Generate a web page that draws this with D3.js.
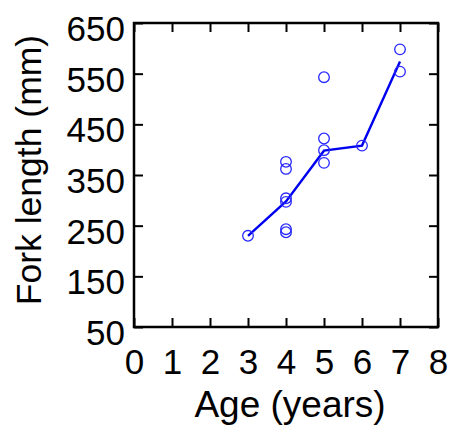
<!DOCTYPE html>
<html>
<head>
<meta charset="utf-8">
<title>Fork length by age</title>
<script src="https://d3js.org/d3.v7.min.js"></script>
<style>
  body { margin: 0; background: #fff; }
  text { font-family: "Liberation Sans", Arial, sans-serif; fill: #000; }
</style>
</head>
<body>
<script>
// observed fish (age, fork length)
var ages    = [3, 4, 4, 4, 4, 4, 4, 5, 5, 5, 5, 6, 7, 7];
var lengths = [230, 376, 362, 304, 297, 243, 237, 543, 422, 399, 374, 408, 598, 554];

// fitted line
var lineAges    = [3, 4, 5, 6, 7];
var lineLengths = [230, 298, 398, 408, 574];

var xTicks = [0, 1, 2, 3, 4, 5, 6, 7, 8];
var yTicks = [50, 150, 250, 350, 450, 550, 650];

var width = 454, height = 429;
var pad = {left: 134, right: 438, top: 23, bottom: 327};
var tickLen = 9;

var svg = d3.select("body").append("svg")
    .attr("width", width)
    .attr("height", height);

var x = d3.scaleLinear().domain([0, 8]).range([pad.left, pad.right]);
var y = d3.scaleLinear().domain([50, 650]).range([pad.bottom, pad.top]);

function styleLabels(g) {
    g.selectAll("text")
        .attr("font-size", null).attr("font-family", null)
        .style("font-size", "35px")
        .style("fill", "#000");
}

// frame
svg.append("rect")
    .attr("x", pad.left).attr("y", pad.top)
    .attr("width", pad.right - pad.left).attr("height", pad.bottom - pad.top)
    .attr("fill", "none").attr("stroke", "#000").attr("stroke-width", 2.5);

// bottom axis, ticks pointing in
svg.append("g")
    .attr("transform", "translate(0," + pad.bottom + ")")
    .call(d3.axisBottom(x).tickValues(xTicks).tickSize(-tickLen).tickPadding(22).tickFormat(d3.format("d")))
    .call(function(g) {
        g.select(".domain").remove();
        g.selectAll("line").attr("stroke-width", 2);
        styleLabels(g);
    });

// top ticks
svg.append("g")
    .attr("transform", "translate(0," + pad.top + ")")
    .call(d3.axisTop(x).tickValues(xTicks).tickSize(-tickLen).tickFormat(""))
    .call(function(g) {
        g.select(".domain").remove();
        g.selectAll("line").attr("stroke-width", 2);
    });

// left axis
svg.append("g")
    .attr("transform", "translate(" + pad.left + ",0)")
    .call(d3.axisLeft(y).tickValues(yTicks).tickSize(-tickLen).tickPadding(9))
    .call(function(g) {
        g.select(".domain").remove();
        g.selectAll("line").attr("stroke-width", 2);
        styleLabels(g);
        g.selectAll("text").attr("dy", "0.5em");
    });

// right ticks
svg.append("g")
    .attr("transform", "translate(" + pad.right + ",0)")
    .call(d3.axisRight(y).tickValues(yTicks).tickSize(-tickLen).tickFormat(""))
    .call(function(g) {
        g.select(".domain").remove();
        g.selectAll("line").attr("stroke-width", 2);
    });

// fitted line
var line = d3.line()
    .x(function(d) { return x(d[0]); })
    .y(function(d) { return y(d[1]); });

svg.append("path")
    .datum(d3.zip(lineAges, lineLengths))
    .attr("d", line)
    .attr("fill", "none")
    .attr("stroke", "#0000f0")
    .attr("stroke-width", 2.4);

// points
svg.selectAll(".pt")
    .data(d3.zip(ages, lengths))
    .enter()
    .append("circle")
    .attr("class", "pt")
    .attr("cx", function(d) { return x(d[0]); })
    .attr("cy", function(d) { return y(d[1]); })
    .attr("r", 5.3)
    .attr("fill", "none")
    .attr("stroke", "#2828ff")
    .attr("stroke-width", 1.3);

// axis titles
svg.append("text")
    .style("font-size", "37px")
    .attr("x", 290).attr("y", 417)
    .attr("text-anchor", "middle")
    .text("Age (years)");

svg.append("text")
    .style("font-size", "35.5px")
    .attr("transform", "translate(41,170) rotate(-90)")
    .attr("text-anchor", "middle")
    .text("Fork length (mm)");
</script>
</body>
</html>
